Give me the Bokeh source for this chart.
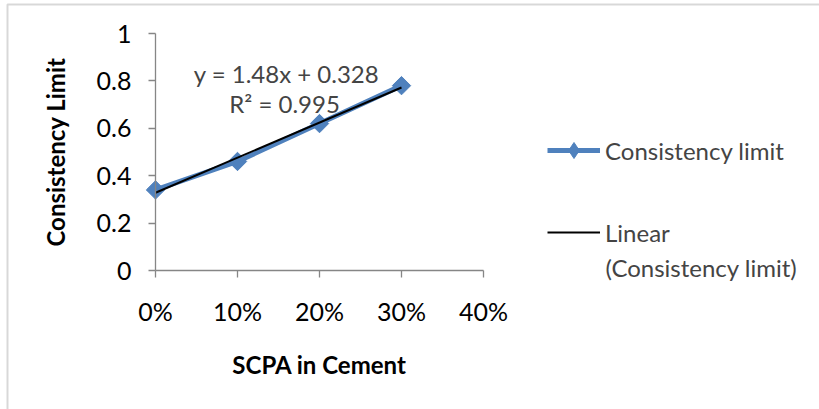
import numpy as np
from bokeh.plotting import figure
from bokeh.models import (Range1d, FixedTicker, Legend, LegendItem, Label, BoxAnnotation,
                          LinearAxis)
from bokeh.embed import file_html
from bokeh.resources import INLINE

# ---- data ----
scpa = [0.0, 0.1, 0.2, 0.3]
consistency = [0.34, 0.46, 0.62, 0.78]
x_ticks = [0.0, 0.1, 0.2, 0.3, 0.4]
x_tick_labels = ["0%", "10%", "20%", "30%", "40%"]
y_ticks = [0.0, 0.2, 0.4, 0.6, 0.8, 1.0]
y_tick_labels = ["0", "0.2", "0.4", "0.6", "0.8", "1"]
series_name = "Consistency limit"
trend_name = "Linear"
trend_name2 = "(Consistency limit)"
eq_text = "y = 1.48x + 0.328"
r2_text = "R² = 0.995"
x_title = "SCPA in Cement"
y_title = "Consistency Limit"

FONT = "Lato"
BLUE = "#4F81BD"
GRAY = "#868686"
W, H = 819, 409
# pixel placement of the plot area inside the canvas
PX0, PX1 = 155, 483   # x = 0 .. 0.4
PY1, PY0 = 33, 270    # y = 1 .. 0
xs = (PX1 - PX0) / 0.4
ys = (PY0 - PY1) / 1.0

p = figure(width=W, height=H, output_backend="svg", toolbar_location=None,
           x_range=Range1d(-PX0 / xs, (W - PX0) / xs),
           y_range=Range1d(-(H - PY0) / ys, 1 + PY1 / ys),
           min_border=0, x_axis_location=None, y_axis_location=None)
p.outline_line_color = None
p.grid.grid_line_color = None
p.background_fill_color = "white"
p.border_fill_color = "white"

xax = LinearAxis(fixed_location=0, bounds=(0, 0.4))
yax = LinearAxis(fixed_location=0, bounds=(0, 1))
p.add_layout(xax, "below")
p.add_layout(yax, "left")

for ax in (xax, yax):
    ax.axis_line_color = GRAY
    ax.axis_line_width = 1.3
    ax.major_tick_line_color = GRAY
    ax.major_tick_line_width = 1.3
    ax.minor_tick_line_color = None
    ax.major_tick_in = 0
    ax.major_tick_out = 7
    ax.major_label_text_font = FONT
    ax.major_label_text_font_size = "25px"
    ax.major_label_text_color = "black"
    ax.axis_label_text_font = FONT
    ax.axis_label_text_font_size = "24px"
    ax.axis_label_text_font_style = "bold"
    ax.axis_label_text_color = "black"

xax.ticker = FixedTicker(ticks=x_ticks)
xax.major_label_overrides = {t: l for t, l in zip(x_ticks, x_tick_labels)}
xax.major_label_standoff = 18
xax.axis_label = x_title
xax.axis_label_standoff = 21

yax.ticker = FixedTicker(ticks=y_ticks)
yax.major_label_overrides = {t: l for t, l in zip(y_ticks, y_tick_labels)}
yax.major_label_standoff = 17
yax.axis_label = y_title
yax.axis_label_standoff = 24

# series
r_line = p.line(scpa, consistency, line_color=BLUE, line_width=5)
r_mark = p.scatter(scpa, consistency, marker="square", angle=np.pi / 4, size=13,
                   fill_color=BLUE, line_color=BLUE)
# legend-only marker (legend glyphs ignore rotation); NaN keeps it out of the plot
r_leg_mark = p.scatter([np.nan], [np.nan], marker="diamond", fill_color=BLUE, line_color=BLUE)

# trendline from least squares fit
m, b = np.polyfit(scpa, consistency, 1)
tx = np.array([scpa[0], scpa[-1]])
r_trend = p.line(tx, m * tx + b, line_color="black", line_width=2)

# equation labels (screen px from bottom-left of canvas)
p.add_layout(Label(x=286, y=H - 73, x_units="screen", y_units="screen", text=eq_text,
                   text_font=FONT, text_font_size="24px", text_align="center",
                   text_baseline="middle"))
p.add_layout(Label(x=284, y=H - 103, x_units="screen", y_units="screen", text=r2_text,
                   text_font=FONT, text_font_size="24px", text_align="center",
                   text_baseline="middle"))

legend = Legend(items=[LegendItem(label=series_name, renderers=[r_line, r_leg_mark]),
                       LegendItem(label=trend_name, renderers=[r_trend])],
                location=(547, 157), padding=0, margin=0, spacing=42,
                glyph_width=53, glyph_height=40, label_height=20, label_standoff=5,
                label_text_font=FONT, label_text_font_size="24px",
                border_line_color=None, background_fill_alpha=0)
p.add_layout(legend, "center")
p.add_layout(Label(x=605, y=H - 267, x_units="screen", y_units="screen", text=trend_name2,
                   text_font=FONT, text_font_size="24px", text_baseline="middle"))

# outer chart border (top and left visible)
p.add_layout(BoxAnnotation(left=7, top=4, right=900, bottom=500,
                           left_units="canvas", right_units="canvas",
                           top_units="canvas", bottom_units="canvas",
                           fill_alpha=0, line_color="#7f7f7f", line_width=2))

open("out.html", "w").write(file_html(p, INLINE))
